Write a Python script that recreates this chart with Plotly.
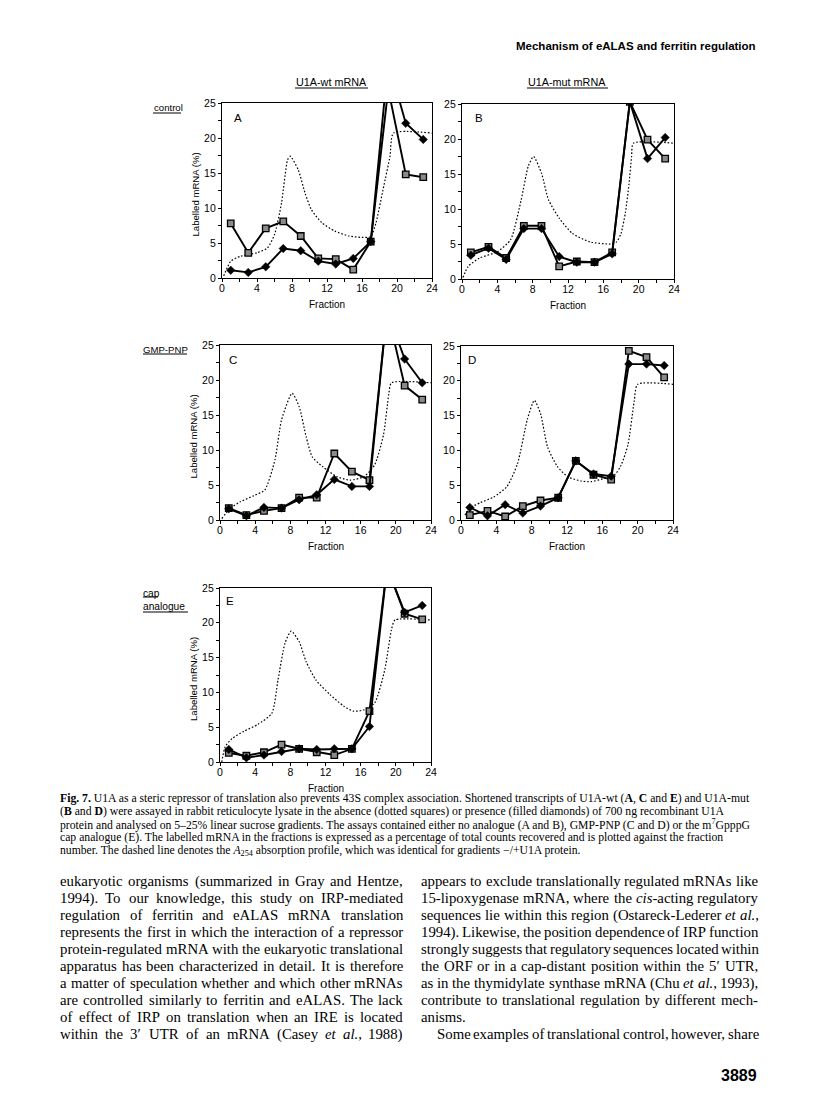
import re
import plotly.graph_objects as go

W, H = 816, 1104

# ---------------- data ----------------
fractions = [1, 3, 5, 7, 9, 11, 13, 15, 17, 19, 21, 23]
xtick_vals = [0, 4, 8, 12, 16, 20, 24]
ytick_vals = [0, 5, 10, 15, 20, 25]

# squares = absence of U1A, diamonds = presence of U1A (values at 19 run off the top)
A_squares = [7.8, 3.6, 7.1, 8.1, 6.0, 2.8, 2.7, 1.2, 5.2, 27.0, 14.8, 14.4]
A_diamonds = [1.1, 0.8, 1.6, 4.2, 3.9, 2.4, 2.0, 2.8, 5.2, 31.0, 22.1, 19.8]
B_squares = [3.8, 4.6, 3.0, 7.6, 7.6, 1.8, 2.5, 2.4, 3.8, 25.3, 19.9, 17.2]
B_diamonds = [3.4, 4.4, 2.8, 7.2, 7.2, 3.2, 2.4, 2.4, 3.6, 25.3, 17.2, 20.2]
C_squares = [1.7, 0.7, 1.3, 1.7, 3.2, 3.2, 9.5, 6.9, 5.7, 30.0, 19.2, 17.2]
C_diamonds = [1.6, 0.6, 1.8, 1.7, 2.9, 3.6, 5.8, 4.8, 4.8, 30.0, 23.0, 19.6]
D_squares = [0.7, 1.3, 0.5, 2.0, 2.8, 3.2, 8.5, 6.5, 5.8, 24.3, 23.4, 20.5]
D_diamonds = [1.8, 0.6, 2.2, 1.0, 2.0, 3.2, 8.5, 6.6, 6.3, 22.4, 22.4, 22.2]
E_squares = [1.3, 0.9, 1.4, 2.5, 1.9, 1.4, 1.0, 1.9, 7.3, 28.0, 21.3, 20.5]
E_diamonds = [1.8, 0.6, 1.0, 1.5, 1.9, 1.8, 1.9, 1.9, 5.1, 28.0, 21.5, 22.5]

# A254 absorption profiles (dashed line)
A_profile_x = [0.2, 1.0, 2.1, 4.0, 5.2, 6.0, 6.8, 7.5, 7.8, 8.7, 9.5, 10.2, 11.4, 12.9, 14.5, 16.0, 17.0, 17.6, 18.4, 19.2, 19.6, 24]
A_profile_y = [0.3, 2.4, 3.1, 3.6, 4.3, 6.2, 10.7, 16.9, 17.4, 15.5, 12.1, 9.8, 7.9, 6.7, 6.0, 5.8, 5.9, 7.9, 12.6, 17.4, 20.7, 20.7]
B_profile_x = [0.1, 0.7, 2.0, 4.0, 5.5, 6.7, 7.5, 8.1, 9.0, 9.8, 11.0, 12.5, 14.5, 16.8, 17.5, 18.0, 18.5, 18.9, 19.2, 19.4, 24]
B_profile_y = [0.2, 1.8, 3.0, 3.9, 5.6, 11.3, 16.1, 17.5, 15.1, 11.3, 8.7, 6.5, 5.3, 5.0, 5.3, 6.5, 9.5, 13.5, 17.5, 19.4, 19.4]
C_profile_x = [0.2, 1.2, 2.3, 3.9, 5.1, 6.25, 7.0, 8.2, 9.0, 9.8, 10.5, 11.7, 13.3, 14.8, 16.4, 17.6, 18.6, 19.2, 19.5, 24]
C_profile_y = [0.2, 1.7, 2.6, 3.5, 4.3, 8.6, 14.3, 18.1, 16.2, 11.9, 9.0, 7.6, 6.2, 5.7, 6.2, 7.9, 12.2, 18.0, 19.6, 19.6]
D_profile_x = [0.45, 1.0, 2.2, 3.7, 5.2, 6.4, 7.5, 8.3, 9.0, 9.8, 10.9, 12.1, 13.6, 14.7, 16.3, 17.4, 18.1, 18.9, 19.6, 20.0, 24]
D_profile_y = [0.7, 1.7, 2.5, 3.3, 4.8, 8.1, 14.4, 17.2, 15.3, 10.5, 7.7, 6.2, 5.6, 5.5, 6.0, 6.5, 7.8, 10.8, 17.0, 19.5, 19.5]
E_profile_x = [0.2, 0.6, 1.4, 2.7, 4.3, 5.9, 6.6, 7.4, 8.1, 9.0, 9.8, 10.9, 12.5, 14.1, 15.2, 16.4, 17.6, 18.75, 19.5, 19.9, 24]
E_profile_y = [0.0, 2.2, 3.4, 4.4, 5.4, 7.0, 11.8, 17.1, 18.8, 17.3, 14.4, 11.8, 9.7, 8.0, 7.3, 7.5, 8.5, 13.3, 19.0, 20.4, 20.4]

panel_letters = ["A", "B", "C", "D", "E"]
x_title = "Fraction"
y_title = "Labelled mRNA (%)"
col_titles = ["U1A-wt mRNA", "U1A-mut mRNA"]
row_titles = ["control", "GMP-PNP", "cap<br>analogue"]

header = "Mechanism of eALAS and ferritin regulation"
page_number = "3889"

caption_lines = [
    "<b>Fig. 7.</b> U1A as a steric repressor of translation also prevents 43S complex association. Shortened transcripts of U1A-wt (<b>A</b>, <b>C</b> and <b>E</b>) and U1A-mut",
    "(<b>B</b> and <b>D</b>) were assayed in rabbit reticulocyte lysate in the absence (dotted squares) or presence (filled diamonds) of 700 ng recombinant U1A",
    "protein and analysed on 5–25% linear sucrose gradients. The assays contained either no analogue (A and B), GMP-PNP (C and D) or the m<sup>7</sup>GpppG",
    "cap analogue (E). The labelled mRNA in the fractions is expressed as a percentage of total counts recovered and is plotted against the fraction",
    "number. The dashed line denotes the <i>A</i><sub>254</sub> absorption profile, which was identical for gradients −/+U1A protein.",
]

left_col = [
    "eukaryotic organisms (summarized in Gray and Hentze,",
    "1994). To our knowledge, this study on IRP-mediated",
    "regulation of ferritin and eALAS mRNA translation",
    "represents the first in which the interaction of a repressor",
    "protein-regulated mRNA with the eukaryotic translational",
    "apparatus has been characterized in detail. It is therefore",
    "a matter of speculation whether and which other mRNAs",
    "are controlled similarly to ferritin and eALAS. The lack",
    "of effect of IRP on translation when an IRE is located",
    "within the 3′ UTR of an mRNA (Casey <i>et</i> <i>al.</i>, 1988)",
]
right_col = [
    "appears to exclude translationally regulated mRNAs like",
    "15-lipoxygenase mRNA, where the <i>cis</i>-acting regulatory",
    "sequences lie within this region (Ostareck-Lederer <i>et</i> <i>al.</i>,",
    "1994). Likewise, the position dependence of IRP function",
    "strongly suggests that regulatory sequences located within",
    "the ORF or in a cap-distant position within the 5′ UTR,",
    "as in the thymidylate synthase mRNA (Chu <i>et</i> <i>al.</i>, 1993),",
    "contribute to translational regulation by different mech-",
    "anisms.",
    "Some examples of translational control, however, share",
]

# ---------------- layout helpers ----------------
panels = [
    (A_squares, A_diamonds, A_profile_x, A_profile_y, (222, 103, 432, 278), True),
    (B_squares, B_diamonds, B_profile_x, B_profile_y, (462, 104, 674, 279), False),
    (C_squares, C_diamonds, C_profile_x, C_profile_y, (220, 345, 431, 520), True),
    (D_squares, D_diamonds, D_profile_x, D_profile_y, (461, 346, 673, 520), False),
    (E_squares, E_diamonds, E_profile_x, E_profile_y, (220, 588, 431, 762), True),
]
letter_pos = [(238, 118), (479, 118), (233, 360), (472, 360), (230, 601)]

SANS = "Liberation Sans"
SERIF = "Liberation Serif"


def px(x):
    return x / W


def py(y):
    return 1 - y / H


def ann(text, x, y, size, family=SANS, xanchor="center", yanchor="middle", **kw):
    d = dict(text=text, x=px(x), y=py(y), xref="paper", yref="paper", showarrow=False,
             xanchor=xanchor, yanchor=yanchor, borderpad=0,
             font=dict(family=family, size=size, color="black"))
    d.update(kw)
    return d


fig = go.Figure()
layout = dict(
    template="none",
    width=W, height=H, autosize=False,
    margin=dict(l=0, r=0, t=0, b=0, pad=0, autoexpand=False),
    paper_bgcolor="white", plot_bgcolor="white", showlegend=False,
)
annotations = []

for i, (sq, di, prx, pry, (x0, y0, x1, y1), ytitle) in enumerate(panels):
    n = "" if i == 0 else str(i + 1)
    xa, ya = "x" + n, "y" + n
    fig.add_trace(go.Scatter(
        x=prx, y=pry, mode="lines", xaxis=xa, yaxis=ya,
        line=dict(color="black", width=1.2, dash="1.6px,1.9px", shape="spline", smoothing=0.6),
        hoverinfo="skip"))
    fig.add_trace(go.Scatter(
        x=fractions, y=sq, mode="lines+markers", xaxis=xa, yaxis=ya,
        line=dict(color="black", width=1.9),
        marker=dict(symbol="square", size=6.5, color="#8a8a8a", line=dict(color="black", width=1.3))))
    fig.add_trace(go.Scatter(
        x=fractions, y=di, mode="lines+markers", xaxis=xa, yaxis=ya,
        line=dict(color="black", width=1.9),
        marker=dict(symbol="diamond", size=6.5, color="black", line=dict(color="black", width=0.5))))

    common = dict(showline=True, mirror=True, linecolor="black", linewidth=1.3,
                  ticks="outside", ticklen=3, tickwidth=1, tickcolor="black",
                  showgrid=False, zeroline=False, fixedrange=True, automargin=False,
                  tickfont=dict(family=SANS, size=10.5, color="black"))
    layout["xaxis" + n] = dict(
        domain=[px(x0), px(x1)], range=[0, 24], anchor=ya, tickvals=xtick_vals,
        minor=dict(dtick=2, ticks="outside", ticklen=3, tickcolor="black"),
        ticklabelstandoff=-3, **common)
    layout["yaxis" + n] = dict(
        domain=[py(y1), py(y0)], range=[0, 25], anchor=xa, tickvals=ytick_vals,
        minor=dict(dtick=2.5, ticks="outside", ticklen=3, tickcolor="black"),
        **common)

    # x axis title
    annotations.append(ann(x_title, (x0 + x1) / 2, y1 + 26, 10))
    if ytitle:
        annotations.append(ann(y_title, x0 - 27, (y0 + y1) / 2 + 4, 9.6, textangle=-90))
    lx, ly = letter_pos[i]
    annotations.append(ann(panel_letters[i], lx, ly, 11.5))

# column / row titles with underlines
shapes = []
col_info = [(331, 82, 295, 368, 88), (567, 82, 527, 608, 88)]
for t, (cx, cy, ux0, ux1, uy) in zip(col_titles, col_info):
    annotations.append(ann(t, cx, cy, 10.8))
    shapes.append(dict(type="line", xref="paper", yref="paper", x0=px(ux0), x1=px(ux1),
                       y0=py(uy), y1=py(uy), line=dict(color="black", width=1)))

row_info = [(153, 108, 9.6, [(153, 181, 113)]),
            (142, 349, 9.6, [(143, 187, 354)]),
            (142, 600, 10.2, [(143, 158, 597), (143, 188, 612)])]
for t, (rx, ry, fs, unders) in zip(row_titles, row_info):
    annotations.append(ann(t, rx, ry, fs, xanchor="left", align="left"))
    for (ux0, ux1, uy) in unders:
        shapes.append(dict(type="line", xref="paper", yref="paper", x0=px(ux0), x1=px(ux1),
                           y0=py(uy), y1=py(uy), line=dict(color="black", width=1)))

# header & page number
annotations.append(ann("<b>" + header + "</b>", 757, 46, 11.5, xanchor="right"))
annotations.append(ann("<b>" + page_number + "</b>", 758, 1075, 16, xanchor="right"))

# ---------------- text (Times metrics for justification) ----------------
TIMES = {' ': 250, '!': 333, '%': 833, "'": 180, '(': 333, ')': 333, ',': 250, '-': 333,
         '.': 250, '/': 278, ':': 278, ';': 278, '–': 500, '−': 564, '′': 275, '+': 564,
         'A': 722, 'B': 667, 'C': 667, 'D': 722, 'E': 611, 'F': 556, 'G': 722, 'H': 722,
         'I': 333, 'J': 389, 'K': 722, 'L': 611, 'M': 889, 'N': 722, 'O': 722, 'P': 556,
         'Q': 722, 'R': 667, 'S': 556, 'T': 611, 'U': 722, 'V': 722, 'W': 944, 'X': 722,
         'Y': 722, 'Z': 611, 'a': 444, 'b': 500, 'c': 444, 'd': 500, 'e': 444, 'f': 333,
         'g': 500, 'h': 500, 'i': 278, 'j': 278, 'k': 500, 'l': 278, 'm': 778, 'n': 500,
         'o': 500, 'p': 500, 'q': 500, 'r': 333, 's': 389, 't': 278, 'u': 500, 'v': 500,
         'w': 722, 'x': 500, 'y': 500, 'z': 444}


def word_width(word, size):
    total, scale, boldf = 0.0, 1.0, 1.0
    for tok in re.split(r'(<[^>]+>)', word):
        if tok.startswith('<'):
            t = tok.lower()
            if t in ('<sup>', '<sub>'):
                scale = 0.7
            elif t in ('</sup>', '</sub>'):
                scale = 1.0
            elif t == '<b>':
                boldf = 1.07
            elif t == '</b>':
                boldf = 1.0
            continue
        for c in tok:
            total += TIMES.get(c, 500) * scale * boldf
    return total / 1000 * size


def add_text_line(text, x0, x1, y, size, justify):
    words = text.split(' ')
    if not justify or len(words) == 1:
        annotations.append(ann(text, x0, y, size, family=SERIF, xanchor="left"))
        return
    widths = [word_width(w, size) for w in words]
    gap = (x1 - x0 - sum(widths)) / (len(words) - 1)
    gap = max(gap, 0.18 * size)
    x = x0
    for w, ww in zip(words, widths):
        annotations.append(ann(w, x, y, size, family=SERIF, xanchor="left"))
        x += ww + gap


cap_size = 11.7
for k, line in enumerate(caption_lines):
    add_text_line(line, 59, 757, 798 + k * 13.2, cap_size, False)

body_size = 14.8
for k, line in enumerate(left_col):
    add_text_line(line, 59, 402, 881 + k * 17, body_size, True)
for k, line in enumerate(right_col):
    if k == 8:
        add_text_line(line, 420, 757, 881 + k * 17, body_size, False)
    elif k == 9:
        add_text_line(line, 436, 757, 881 + k * 17, body_size, True)
    else:
        add_text_line(line, 420, 757, 881 + k * 17, body_size, True)

layout["annotations"] = annotations
layout["shapes"] = shapes
fig.update_layout(**layout)

fig.write_html("out.html", config={"displayModeBar": False},
               post_script="document.body.style.margin='0';document.body.style.overflow='hidden';")
